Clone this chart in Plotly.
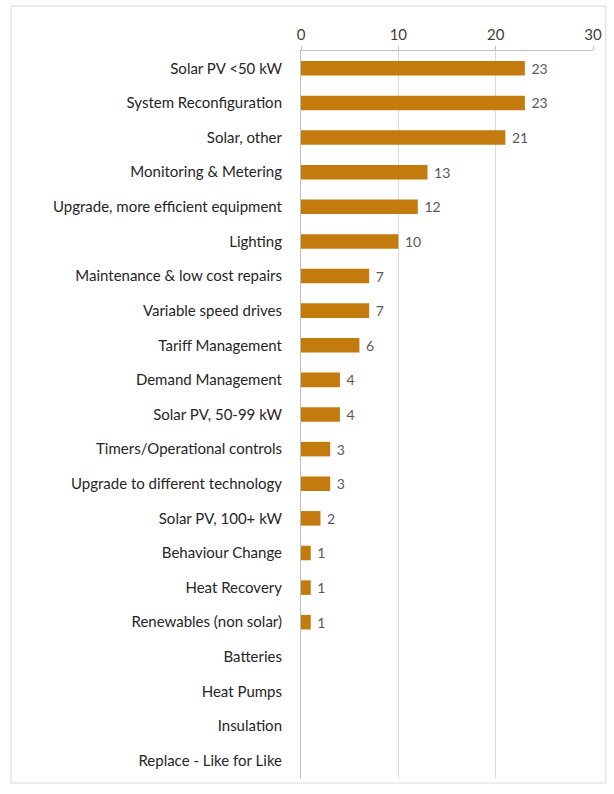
import plotly.graph_objects as go

categories = [
    "Solar PV <50 kW", "System Reconfiguration", "Solar, other", "Monitoring & Metering",
    "Upgrade, more efficient equipment", "Lighting", "Maintenance & low cost repairs",
    "Variable speed drives", "Tariff Management", "Demand Management", "Solar PV, 50-99 kW",
    "Timers/Operational controls", "Upgrade to different technology", "Solar PV, 100+ kW",
    "Behaviour Change", "Heat Recovery", "Renewables (non solar)", "Batteries",
    "Heat Pumps", "Insulation", "Replace - Like for Like",
]
values = [23, 23, 21, 13, 12, 10, 7, 7, 6, 4, 4, 3, 3, 2, 1, 1, 1, 0, 0, 0, 0]
labels = [" " + str(v) if v > 0 else "" for v in values]
x_ticks = [0, 10, 20, 30]

W, H = 614, 794
ml, mr, mt, mb = 301, 16, 51, 16

fig = go.Figure(go.Bar(
    y=categories, x=values, orientation="h",
    marker=dict(color="#C27B0C", line=dict(width=0)),
    width=0.42,
    text=labels, textposition="outside", cliponaxis=False, constraintext="none",
    textfont=dict(family="Lato", size=14, color="#595959"),
))

pw = W - ml - mr
ph = H - mt - mb
fig.add_shape(type="rect", xref="paper", yref="paper",
              x0=(6 - ml) / pw, x1=(611 - ml) / pw,
              y0=(H - mb - 783) / ph + 0, y1=(H - mb - 6) / ph,
              line=dict(color="#D9D9D9", width=1), layer="below")

fig.update_layout(
    width=W, height=H,
    margin=dict(l=ml, r=mr, t=mt, b=mb),
    paper_bgcolor="white", plot_bgcolor="white",
    font=dict(family="Lato", size=15, color="#404040"),
    showlegend=False, bargap=0.6,
    xaxis=dict(side="top", range=[0, 30], tickvals=x_ticks, showgrid=True,
               gridcolor="#D9D9D9", gridwidth=1, showline=True, linecolor="#BFBFBF",
               ticks="outside", ticklen=4, tickcolor="#BFBFBF", zeroline=False,
               tickfont=dict(size=15, color="#404040")),
    yaxis=dict(autorange="reversed", showline=True, linecolor="#BFBFBF",
               ticks="", ticklabelstandoff=15, tickfont=dict(size=15, color="#262626")),
)

fig.write_html("out.html")
